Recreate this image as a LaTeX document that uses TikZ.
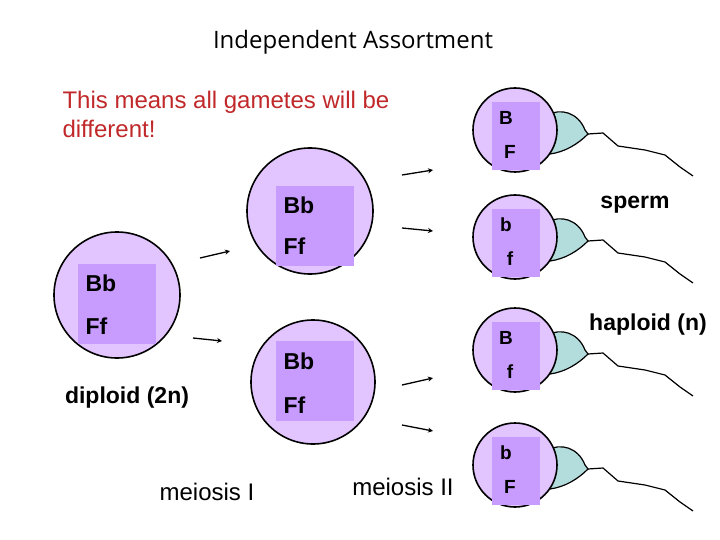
\documentclass[tikz,border=0pt]{standalone}
\usepackage{fontspec}
\usetikzlibrary{arrows.meta}
\setmainfont{Liberation Sans}
\newfontfamily\tfont{Open Sans}
\definecolor{cell}{HTML}{E2C4FF}
\definecolor{nuc}{HTML}{C89BFF}
\definecolor{head}{HTML}{B3DCDC}
\definecolor{red1}{HTML}{C0282A}
\begin{document}
\begin{tikzpicture}[x=1pt,y=-1pt,
 cellc/.style={circle,draw=black,line width=1.6pt,fill=cell,minimum size=#1,inner sep=0},
 nucl/.style={fill=nuc},
 lbl/.style={font=\fontsize{23}{26}\selectfont\bfseries,anchor=west},
 slbl/.style={font=\fontsize{19}{22}\selectfont\bfseries},
 txt/.style={font=\fontsize{24}{29}\selectfont},
 arr/.style={line width=1.3pt,-{Stealth[length=5pt,width=5pt]}}]
\path[use as bounding box] (0,0) rectangle (720,540);
\node[font=\tfont\fontsize{24}{28}\selectfont] (title) at (353,42) {Independent Assortment};
\node[txt,text=red1,align=left,anchor=north west] (red) at (59,88) {This means all gametes will be\\different!};
% big cells
\node[cellc=126pt] (c0) at (117,295) {};
\fill[nucl] (78,264) rectangle (156,344);
\node[lbl] (c0a) at (82,283) {Bb}; \node[lbl] (c0b) at (82,326) {Ff};
\node[cellc=126pt] (c1) at (310,211) {};
\fill[nucl] (276,186) rectangle (354,266);
\node[lbl] (c1a) at (280,205) {Bb}; \node[lbl] (c1b) at (280,246) {Ff};
\node[cellc=124pt] (c2) at (313,382) {};
\fill[nucl] (276,341) rectangle (354,421);
\node[lbl] (c2a) at (280,361) {Bb}; \node[lbl] (c2b) at (280,405) {Ff};
% arrows
\coordinate (a1s) at (200,258); \coordinate (a1e) at (230,251);
\coordinate (a2s) at (193,338); \coordinate (a2e) at (222,341);
\draw[arr] (a1s) -- (a1e); \draw[arr] (a2s) -- (a2e);
\foreach \n/\ya/\yb in {b1/175/170, b2/228/231, b3/385/378, b4/425/431}{
 \coordinate (\n s) at (402,\ya); \coordinate (\n e) at (433,\yb);
 \draw[arr] (\n s) -- (\n e);}
% sperm
\foreach \n/\y/\ga/\gb in {s1/130/B/F, s2/237/b/f, s3/350/B/f, s4/465/b/F}{
 \begin{scope}[shift={(0,\y)}]
 \draw[line width=1.2pt,fill=head] (548,-15) .. controls (560,-22) and (578,-18) .. (585,0) -- (588,4) .. controls (578,14) and (565,22) .. (550,24) -- cycle;
 \draw[line width=1.2pt] (588,4) -- (603,3) -- (618,16) -- (645,20) -- (665,25) -- (680,37) -- (693,46);
 \node[cellc=84pt] (\n) at (515,0) {};
 \fill[nucl] (492,-28) rectangle (540,40);
 \node[slbl] (\n a) at (506,-12) {\ga};
 \node[slbl] (\n b) at (510,22) {\gb};
 \end{scope}}
\node[txt,font=\fontsize{23}{28}\selectfont\bfseries] (sp) at (635,205) {sperm};
\node[txt,font=\fontsize{23}{28}\selectfont\bfseries] (hap) at (648,325) {haploid (n)};
\node[txt,font=\fontsize{23}{28}\selectfont\bfseries] (dip) at (127,398) {diploid (2n)};
\node[txt] (m1) at (207,492) {meiosis I};
\node[txt] (m2) at (403,487) {meiosis II};
\end{tikzpicture}
\end{document}
